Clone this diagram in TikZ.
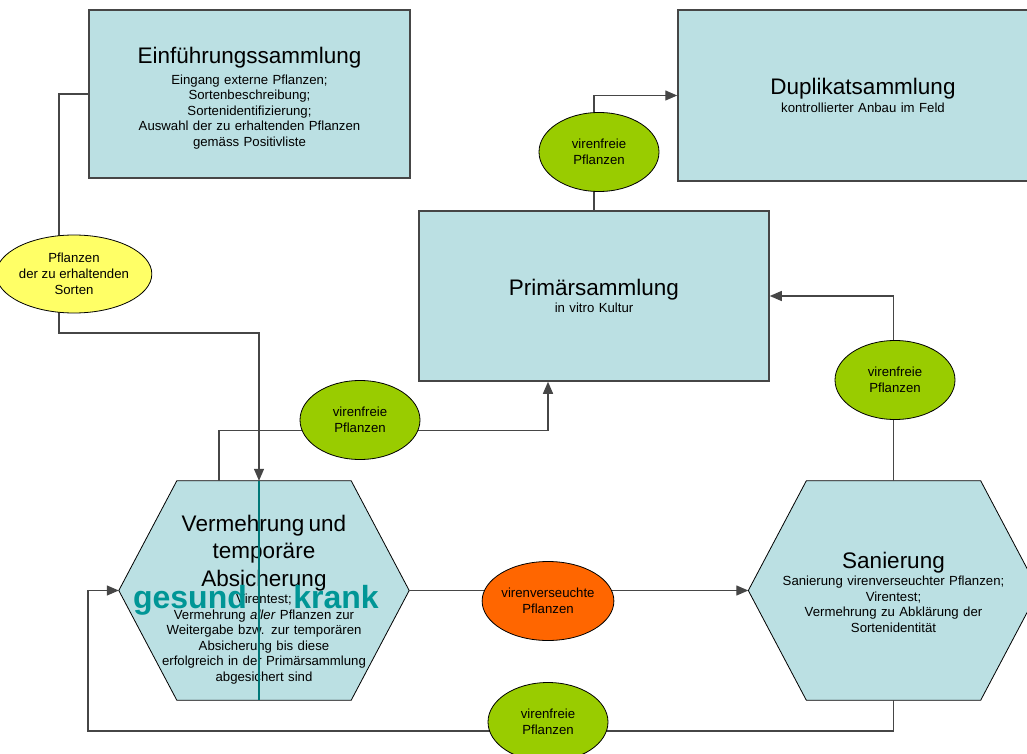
\documentclass[tikz,border=0pt]{standalone}
\usepackage{fontspec}
\setmainfont{Liberation Sans}
\usetikzlibrary{arrows.meta,backgrounds,shapes.geometric}
\definecolor{boxblue}{RGB}{187,224,227}
\definecolor{freegreen}{RGB}{153,204,0}
\definecolor{plantyellow}{RGB}{255,255,102}
\definecolor{virusorange}{RGB}{255,102,0}
\definecolor{splitteal}{RGB}{0,150,150}
\definecolor{linegray}{RGB}{70,70,70}
\newcommand\titlesize{\fontsize{22.5}{27.5}\selectfont}
\newcommand\bodysize{\fontsize{13.2}{15.5}\selectfont}

\begin{document}
\begin{tikzpicture}[x=1pt,y=-1pt,
    collbox/.style={draw=linegray,line width=1.5pt,fill=boxblue,inner sep=0pt,align=center,font=\bodysize},
    hexnode/.style={minimum width=290pt,minimum height=219pt,inner sep=0pt,text width=270pt,align=center,font=\bodysize},
    hexfill/.style={draw=black,line width=0.8pt,fill=boxblue},
    tag/.style={ellipse,draw=black,line width=0.8pt,minimum width=120pt,minimum height=79pt,inner sep=0pt,align=center,font=\fontsize{13.2}{16}\selectfont},
    link/.style={draw=linegray,line width=1.3pt},
    arrowlink/.style={link,-{Triangle[length=12pt,width=10pt]}},
    splittext/.style={text=splitteal,font=\fontsize{32}{36}\selectfont\bfseries,inner sep=0pt,anchor=base}
  ]
  \useasboundingbox (0,0) rectangle (1027,754);

  \node[collbox,minimum width=321pt,minimum height=168pt,text width=300pt] (einf) at (249.5,94)
    {{\titlesize\rule{0pt}{25pt}Einführungssammlung\par}\vspace{5pt}Eingang externe Pflanzen;\\Sortenbeschreibung;\\Sortenidentifizierung;\\Auswahl der zu erhaltenden Pflanzen\\gemäss Positivliste};
  \node[collbox,minimum width=370pt,minimum height=171pt,text width=340pt] (dup) at (863,95.5)
    {{\titlesize Duplikatsammlung\par}\vspace{2pt}kontrollierter Anbau im Feld};
  \node[collbox,minimum width=350pt,minimum height=170pt,text width=320pt] (prim) at (594,296)
    {{\titlesize Primärsammlung\par}\vspace{2pt}in vitro Kultur};
  \node[hexnode] (verm) at (264,590.5)
    {{\titlesize\rule{0pt}{34pt}Vermehrung und\\temporäre\\Absicherung\par}\vspace{2pt}Virentest;\\Vermehrung \emph{aller} Pflanzen zur\\Weitergabe bzw. zur temporären\\Absicherung bis diese\\erfolgreich in der Primärsammlung\\abgesichert sind};
  \node[hexnode] (san) at (893.5,590.5)
    {{\titlesize\rule{0pt}{20pt}Sanierung\par}\vspace{2pt}Sanierung virenverseuchter Pflanzen;\\Virentest;\\Vermehrung zu Abklärung der\\Sortenidentität};

  \begin{scope}[on background layer]
    \foreach \hex in {verm,san}
      \draw[hexfill] (\hex.west) -- ([xshift=58pt]\hex.north west) -- ([xshift=-58pt]\hex.north east)
        -- (\hex.east) -- ([xshift=-58pt]\hex.south east) -- ([xshift=58pt]\hex.south west) -- cycle;
  \end{scope}

  \draw[arrowlink] (einf.west) -| (59,333) -| ([xshift=-5pt]verm.north);
  \draw[arrowlink] ([xshift=-45pt]verm.north) -- ++(0,-50) -| ([xshift=-46pt]prim.south);
  \draw[arrowlink] (prim.north) |- (dup.west);
  \draw[arrowlink] (san.north) |- (prim.east);
  \draw[arrowlink] (verm.east) -- (san.west);
  \draw[arrowlink] (san.south) |- (88,731) |- (verm.west);

  \node[tag,fill=plantyellow,minimum width=133pt,minimum height=78pt] (sorten) at (74,274) {Pflanzen\\der zu erhaltenden\\Sorten};
  \node[tag,fill=freegreen] (frei1) at (599,152) {virenfreie\\Pflanzen};
  \node[tag,fill=freegreen] (frei2) at (360,420) {virenfreie\\Pflanzen};
  \node[tag,fill=freegreen] (frei3) at (895,380) {virenfreie\\Pflanzen};
  \node[tag,fill=virusorange] (verseucht) at (548,601) {virenverseuchte\\Pflanzen};
  \node[tag,fill=freegreen] (frei4) at (548,722) {virenfreie\\Pflanzen};

  % gesund / krank
  \draw[splitteal!80!black,line width=2.5pt] ([xshift=-5pt]verm.north) -- ([xshift=-5pt]verm.south);
  \node[splittext] (gesund) at (190,608) {gesund};
  \node[splittext] (krank) at (336,608) {krank};
\end{tikzpicture}
\end{document}
